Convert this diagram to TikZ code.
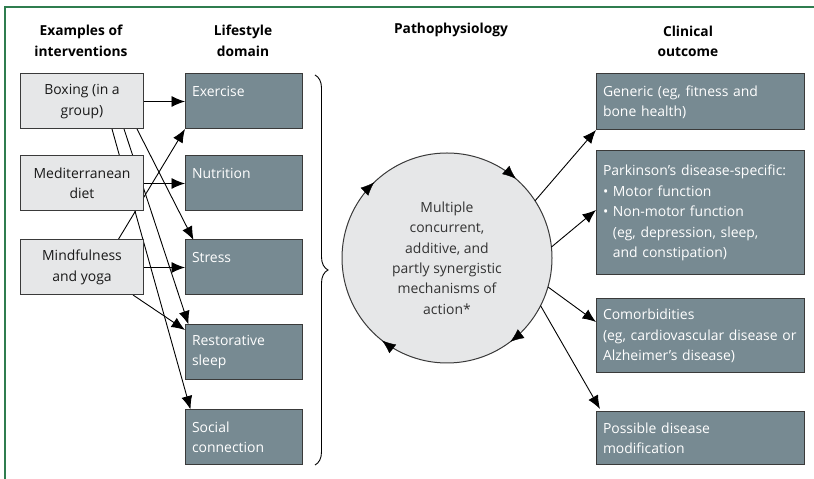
\documentclass[tikz,border=0pt]{standalone}
\usepackage{fontspec}
\setmainfont{Open Sans}
\usetikzlibrary{arrows.meta,backgrounds,decorations.pathreplacing,decorations.markings}
\definecolor{boxgrey}{HTML}{E6E7E8}
\definecolor{slate}{HTML}{778A92}
\definecolor{framegreen}{HTML}{2F7D4F}
\definecolor{edge}{HTML}{3A3A3A}
\tikzset{
  every node/.style={font=\fontsize{14}{20.5}\selectfont,inner sep=0pt,outer sep=0pt},
  head/.style={font=\fontsize{13.8}{20.5}\selectfont\bfseries,align=center},
  interv/.style={draw=edge,fill=boxgrey,line width=1bp,minimum width=122bp,minimum height=55bp,align=center,text=black!90},
  lifebox/.style={draw=edge,fill=slate,line width=1bp,minimum width=117bp,minimum height=55bp,text width=103bp,inner xsep=7bp,align=left,text=white},
  outcome/.style={lifebox,minimum width=208bp,text width=194bp},
  tip/.tip={Latex[length=13.5bp,width=11bp]},
  arr/.style={-tip,line width=0.9bp},
  cycle marks/.style={decoration={markings,
    mark=at position 0.136 with {\arrowreversed{tip}},
    mark=at position 0.372 with {\arrowreversed{tip}},
    mark=at position 0.644 with {\arrowreversed{tip}},
    mark=at position 0.853 with {\arrowreversed{tip}}},decorate},
}
\begin{document}
\begin{tikzpicture}[x=1bp,y=1bp]
\useasboundingbox (0,0) rectangle (814,479);
\draw[framegreen,line width=1.3bp] (5,0)--(5,472)--(814,472);
% column heads
\node[head] (h1) at (81,438) {Examples of\\interventions};
\node[head] (h2) at (243,438) {Lifestyle\\domain};
\node[head] (h3) at (451,449) {Pathophysiology};
\node[head] (h4) at (688,437.5) {Clinical\\outcome};
% interventions and domains
\node[interv] (boxing) at (82,377.5) {Boxing (in a\\group)};
\node[interv] (diet) at (82,295.5) {Mediterranean\\diet};
\node[interv] (yoga) at (82,211.5) {Mindfulness\\and yoga};
\node[lifebox] (exercise) at (243.5,377.5) {Exercise\\~};
\node[lifebox] (nutrition) at (243.5,295.5) {Nutrition\\~};
\node[lifebox] (stress) at (243.5,211.5) {Stress\\~};
\node[lifebox] (sleep) at (243.5,127) {Restorative\\sleep};
\node[lifebox] (social) at (243.5,42) {Social\\connection};
\begin{scope}[on background layer]
\draw[arr] (boxing.east)--(exercise.west);
\draw[arr] ([xshift=55bp]boxing.south)--([xshift=-50bp]stress.north);
\draw[arr] ([xshift=42bp]boxing.south)--([xshift=-55bp]sleep.north);
\draw[arr] ([xshift=30bp]boxing.south)--([xshift=-53bp]social.north);
\draw[arr] (diet.east)--(nutrition.west);
\draw[arr] ([xshift=36bp]yoga.north)--(exercise.south west);
\draw[arr] (yoga.east)--(stress.west);
\draw[arr] ([xshift=51bp]yoga.south)--([yshift=22bp]sleep.west);
\end{scope}
\draw[decorate,decoration={brace,amplitude=13bp},line width=0.9bp] (315,404)--(315,14);
% mechanisms, with the clockwise heads on the rim
\node[circle,draw=edge,fill=boxgrey,line width=1bp,minimum size=210bp,align=center,text=black!80] (mech) at (447,221)
  {Multiple\\concurrent,\\additive, and\\partly synergistic\\mechanisms of\\action*};
\path[cycle marks] (mech.center) circle[radius=105bp];
% outcomes
\node[outcome,minimum height=56bp] (generic) at (700,377) {Generic (eg, fitness and\\bone health)};
\node[outcome,minimum height=124bp] (pd) at (700,266) {Parkinson's disease-specific:\\• Motor function\\• Non-motor function\\\phantom{• }(eg, depression, sleep,\\\phantom{• }and constipation)};
\node[outcome,minimum height=74bp] (comorb) at (700,143) {Comorbidities\\(eg, cardiovascular disease or\\Alzheimer's disease)};
\node[outcome,minimum height=53bp] (modif) at (700,40.5) {Possible disease\\modification};
\draw[arr] (mech.33)--(generic.south west);
\draw[arr] (mech.6)--([yshift=3bp]pd.west);
\draw[arr] (mech.-16)--([yshift=14bp]comorb.west);
\draw[arr] (mech.-27)--([shift={(4bp,3bp)}]modif.north west);
\end{tikzpicture}
\end{document}
